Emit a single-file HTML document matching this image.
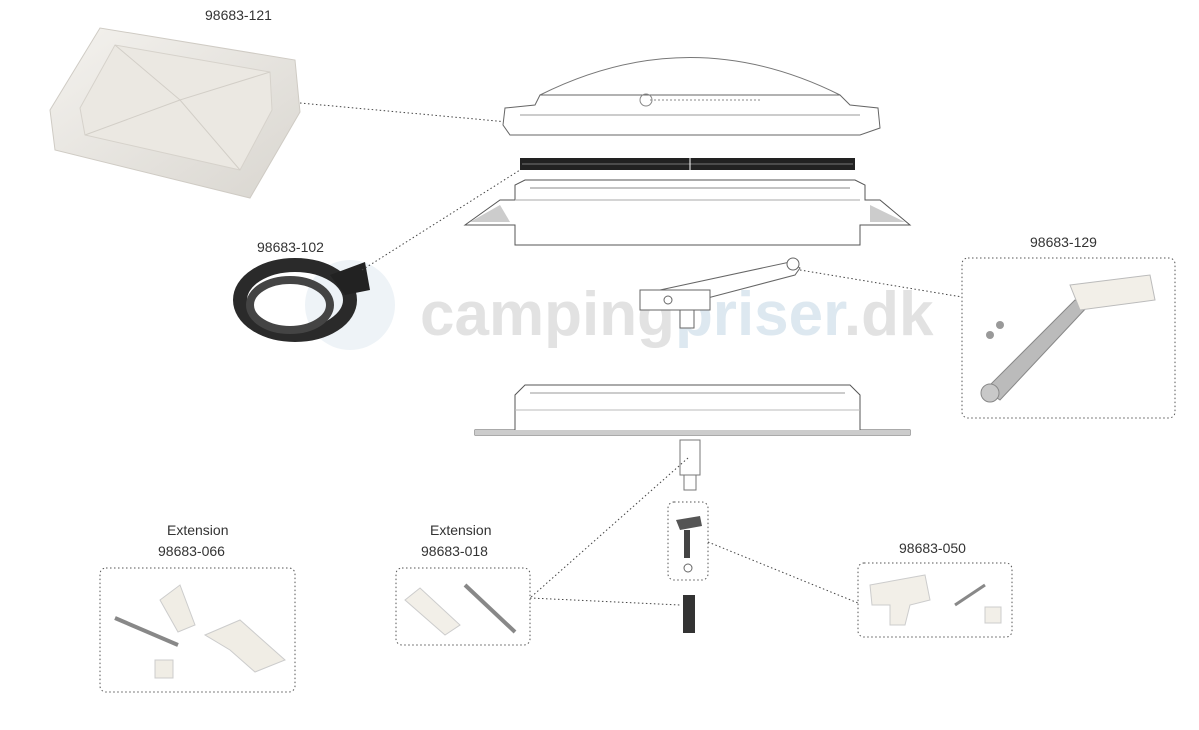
<!DOCTYPE html>
<html><head><meta charset="utf-8"><style>
body{margin:0;background:#fff;width:1199px;height:730px;overflow:hidden;font-family:"Liberation Sans",sans-serif}
svg{display:block}
text{font-family:"Liberation Sans",sans-serif;font-size:14px;fill:#333}
</style></head><body>
<svg width="1199" height="730" viewBox="0 0 1199 730">
<defs>
<linearGradient id="lid" x1="0" y1="0" x2="1" y2="1"><stop offset="0" stop-color="#f4f2ee"/><stop offset="1" stop-color="#d9d6d0"/></linearGradient>
</defs>
<!-- watermark -->
<text x="420" y="335" style="font-size:62px;font-weight:bold;fill:#e2e2e2">camping<tspan fill="#dde8f0">priser</tspan>.dk</text>
<circle cx="350" cy="305" r="45" fill="#eef3f7"/>

<!-- lid 98683-121 -->
<text x="205" y="20">98683-121</text>
<path d="M50,110 L100,28 L295,60 L300,112 L250,198 L55,150 Z" fill="url(#lid)" stroke="#cfcbc4"/>
<path d="M80,108 L115,45 L270,72 L272,110 L240,170 L85,135 Z" fill="#ebe8e2" stroke="#d6d2cb"/>
<path d="M115,45 L180,100 L270,72 M180,100 L240,170 M180,100 L85,135" stroke="#d2cec7" fill="none"/>
<line x1="300" y1="103" x2="508" y2="122" stroke="#444" stroke-dasharray="1.5,2.5"/>

<!-- dome -->
<path d="M540,95 Q690,20 840,95" fill="none" stroke="#777"/>
<path d="M505,108 L535,105 L540,95 L840,95 L850,105 L878,108 L880,128 L860,135 L510,135 L503,125 Z" fill="#fff" stroke="#666"/>
<line x1="520" y1="115" x2="860" y2="115" stroke="#999"/>
<line x1="650" y1="100" x2="760" y2="100" stroke="#888" stroke-dasharray="2,2"/>
<circle cx="646" cy="100" r="6" fill="none" stroke="#888"/>

<!-- gasket strip -->
<rect x="520" y="158" width="335" height="12" fill="#222"/>
<line x1="522" y1="164" x2="853" y2="164" stroke="#777"/>
<line x1="690" y1="158" x2="690" y2="170" stroke="#fff"/>

<!-- frame -->
<path d="M465,225 L500,200 L515,200 L515,185 L525,180 L855,180 L865,185 L865,200 L880,200 L910,225 L860,225 L860,245 L515,245 L515,225 Z" fill="#fff" stroke="#555"/>
<line x1="530" y1="188" x2="850" y2="188" stroke="#888"/>
<line x1="515" y1="200" x2="860" y2="200" stroke="#aaa"/>
<path d="M470,222 L500,205 L510,222 Z" fill="#ccc"/>
<path d="M870,205 L905,222 L870,222 Z" fill="#ccc"/>

<!-- seal coil -->
<text x="257" y="252">98683-102</text>
<ellipse cx="295" cy="300" rx="55" ry="35" fill="none" stroke="#2a2a2a" stroke-width="14"/>
<ellipse cx="290" cy="305" rx="40" ry="25" fill="none" stroke="#444" stroke-width="8"/>
<path d="M330,275 L365,262 L370,290 L345,295 Z" fill="#222"/>
<line x1="362" y1="270" x2="520" y2="170" stroke="#444" stroke-dasharray="1.5,2.5"/>

<!-- lever -->
<path d="M660,290 L790,262 L800,268 L795,275 L700,300 Z" fill="#fff" stroke="#666"/>
<circle cx="793" cy="264" r="6" fill="#fff" stroke="#666"/>
<rect x="640" y="290" width="70" height="20" fill="#fff" stroke="#666"/>
<rect x="680" y="310" width="14" height="18" fill="#fff" stroke="#666"/>
<circle cx="668" cy="300" r="4" fill="none" stroke="#666"/>
<line x1="800" y1="270" x2="962" y2="297" stroke="#444" stroke-dasharray="1.5,2.5"/>

<!-- box 129 -->
<text x="1030" y="247">98683-129</text>
<rect x="962" y="258" width="213" height="160" rx="6" fill="none" stroke="#555" stroke-dasharray="1.5,2.5"/>
<path d="M985,390 L1075,300 L1088,306 L1000,400 Z" fill="#bbb" stroke="#888"/>
<circle cx="990" cy="393" r="9" fill="#c8c8c8" stroke="#888"/>
<path d="M1070,285 L1150,275 L1155,300 L1080,310 Z" fill="#f2efe8" stroke="#bbb"/>
<circle cx="990" cy="335" r="4" fill="#999"/><circle cx="1000" cy="325" r="4" fill="#999"/>

<!-- lower frame -->
<path d="M475,430 L515,430 L515,395 L525,385 L850,385 L860,395 L860,430 L910,430 L910,435 L475,435 Z" fill="#fff" stroke="#555"/>
<line x1="530" y1="393" x2="845" y2="393" stroke="#999"/>
<line x1="515" y1="410" x2="860" y2="410" stroke="#bbb"/>
<rect x="475" y="430" width="435" height="5" fill="#ccc"/>

<!-- small parts -->
<rect x="680" y="440" width="20" height="35" fill="#fff" stroke="#777"/>
<rect x="684" y="475" width="12" height="15" fill="#fff" stroke="#777"/>
<line x1="688" y1="458" x2="530" y2="598" stroke="#444" stroke-dasharray="1.5,2.5"/>
<rect x="668" y="502" width="40" height="78" rx="6" fill="none" stroke="#555" stroke-dasharray="1.5,2.5"/>
<path d="M676,520 L700,516 L702,526 L680,530 Z" fill="#555"/>
<rect x="684" y="530" width="6" height="28" fill="#444"/>
<ellipse cx="688" cy="568" rx="4" ry="4" fill="none" stroke="#666"/>
<line x1="708" y1="542" x2="858" y2="603" stroke="#444" stroke-dasharray="1.5,2.5"/>
<rect x="683" y="595" width="12" height="38" fill="#333"/>
<line x1="530" y1="598" x2="680" y2="605" stroke="#444" stroke-dasharray="1.5,2.5"/>

<!-- box 066 -->
<text x="167" y="535">Extension</text>
<text x="158" y="556">98683-066</text>
<rect x="100" y="568" width="195" height="124" rx="6" fill="none" stroke="#555" stroke-dasharray="1.5,2.5"/>
<line x1="115" y1="618" x2="178" y2="645" stroke="#888" stroke-width="4"/>
<path d="M160,600 L180,585 L195,625 L178,632 Z" fill="#f0ede5" stroke="#ccc"/>
<path d="M205,635 L240,620 L285,660 L255,672 L230,650 Z" fill="#f0ede5" stroke="#ccc"/>
<rect x="155" y="660" width="18" height="18" fill="#f0ede5" stroke="#ccc"/>

<!-- box 018 -->
<text x="430" y="535">Extension</text>
<text x="421" y="556">98683-018</text>
<rect x="396" y="568" width="134" height="77" rx="6" fill="none" stroke="#555" stroke-dasharray="1.5,2.5"/>
<path d="M405,600 L420,588 L460,625 L445,635 Z" fill="#f2efe8" stroke="#ccc"/>
<line x1="465" y1="585" x2="515" y2="632" stroke="#888" stroke-width="4"/>

<!-- box 050 -->
<text x="899" y="553">98683-050</text>
<rect x="858" y="563" width="154" height="74" rx="6" fill="none" stroke="#555" stroke-dasharray="1.5,2.5"/>
<path d="M870,585 L925,575 L930,600 L910,605 L905,625 L890,625 L890,605 L872,605 Z" fill="#f2efe8" stroke="#ccc"/>
<line x1="955" y1="605" x2="985" y2="585" stroke="#888" stroke-width="3"/>
<rect x="985" y="607" width="16" height="16" fill="#f2efe8" stroke="#ccc"/>
</svg>
</body></html>
